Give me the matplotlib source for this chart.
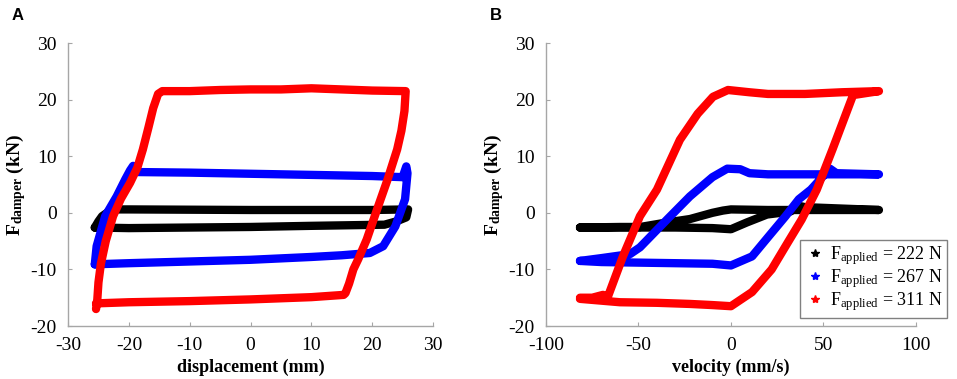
import matplotlib
matplotlib.use("Agg")
import matplotlib.pyplot as plt
from matplotlib.lines import Line2D

# ---- style ----
plt.rcParams.update({
    "font.family": "Liberation Serif",
    "font.size": 14,
    "axes.unicode_minus": False,
    "mathtext.fontset": "custom",
    "mathtext.rm": "Liberation Serif",
    "mathtext.it": "Liberation Serif:italic",
    "mathtext.bf": "Liberation Serif:bold",
})

# ---- data: panel A (force vs displacement) ----
disp_222 = [-25.6, -25.0, -24.4, -22.8, -20, 0, 20, 25.9, 25.6, 24.0, 22.0,
            10, 0, -10, -20, -25.6]
force_222_a = [-2.6, -1.5, -0.6, 0.6, 0.6, 0.5, 0.5, 0.6, -0.8, -1.5, -2.1,
               -2.3, -2.5, -2.6, -2.7, -2.6]

disp_267 = [-25.6, -25.3, -23.9, -22.0, -20.6, -19.8, -19.3, -18.5, -10, 0, 10,
            20, 25.0, 25.6, 25.8, 25.4, 23.8, 21.8, 19.6, 15, 10, 0, -10, -20, -25.6]
force_267_a = [-9.1, -5.9, -0.6, 2.9, 5.9, 7.5, 8.3, 7.2, 7.1, 6.9, 6.7,
               6.5, 6.3, 8.2, 7.0, 2.4, -2.4, -5.9, -7.1, -7.5, -7.8, -8.3, -8.6, -8.9, -9.1]

disp_311 = [-25.4, -25.2, -25.0, -24.6, -23.8, -22.6, -21.3, -19.8, -18.6, -17.7,
            -16.8, -16.0, -15.2, -14.5, -10, -5, 0, 5, 10, 15, 20, 25.5,
            25.3, 24.8, 24.1, 22.5, 20.8, 19.1, 17.7, 16.9, 16.2, 15.6, 15.3,
            10, 0, -10, -20, -25.4]
force_311_a = [-17.0, -15.5, -12.3, -9.0, -5.0, -0.6, 2.5, 5.3, 8.0, 11.2,
               15.0, 18.5, 21.0, 21.5, 21.5, 21.7, 21.8, 21.8, 22.0, 21.8, 21.6, 21.5,
               18.0, 14.5, 11.2, 5.8, 0.6, -4.7, -8.2, -10.0, -12.5, -14.2, -14.5,
               -14.9, -15.3, -15.6, -15.8, -16.0]

# ---- data: panel B (force vs velocity) ----
vel_222 = [-81.6, -60, -49, -34.6, -22.2, -10, -4.3, 0, 20, 40, 60, 80,
           40, 37.3, 31.9, 19.5, 8.6, 0, -10, -30, -50, -81.6]
force_222_b = [-2.6, -2.5, -2.5, -1.7, -1.1, 0.0, 0.4, 0.6, 0.5, 0.5, 0.5, 0.5,
               1.0, 1.2, 0.2, -0.3, -1.7, -2.9, -2.7, -2.6, -2.6, -2.6]

vel_267 = [-81.6, -70, -54.6, -49.2, -34.6, -22.2, -10, -2, 5, 10, 20, 40, 60, 80,
           57, 53.5, 43.2, 36.7, 29.5, 20.3, 11.4, 0, -10, -30, -50, -70, -81.6]
force_267_b = [-8.5, -8.0, -7.3, -6.1, -1.2, 2.9, 6.3, 7.8, 7.7, 7.0, 6.8, 6.8, 6.8, 6.8,
               7.0, 7.8, 4.1, 2.4, -0.6, -4.2, -7.7, -9.3, -9.0, -8.9, -8.8, -8.7, -8.5]

vel_311 = [-81.6, -75, -69.2, -66.5, -58.4, -49.2, -40, -27.6, -18, -9.7, -1.6,
           10, 20, 40, 60, 80, 66, 55, 46.4, 38.2, 30.8, 22, 11.4, 0, -10,
           -22.2, -40, -60, -81.6]
force_311_b = [-15.0, -15.0, -14.5, -14.8, -7.7, -0.6, 4.1, 12.9, 17.5, 20.5, 21.7,
               21.3, 21.0, 21.0, 21.3, 21.5, 20.8, 11.3, 4.1, -1.2, -5.2, -10.0, -14.0, -16.5, -16.3,
               -16.1, -15.9, -15.8, -15.2]

legend_labels = [r"F$_\mathrm{applied}$ = 222 N",
                 r"F$_\mathrm{applied}$ = 267 N",
                 r"F$_\mathrm{applied}$ = 311 N"]
colors = ["black", "#0000ff", "#ff0000"]

# ---- figure ----
fig = plt.figure(figsize=(9.57, 3.79), dpi=100)
ax_a = fig.add_axes([0.0711, 0.1398, 0.3814, 0.7467])
ax_b = fig.add_axes([0.5705, 0.1398, 0.3866, 0.7467])

line_kw = dict(linewidth=6.0, solid_joinstyle="round", solid_capstyle="round")

ax_a.plot(disp_222, force_222_a, color=colors[0], **line_kw)
ax_a.plot(disp_267, force_267_a, color=colors[1], **line_kw)
ax_a.plot(disp_311, force_311_a, color=colors[2], **line_kw)

ax_b.plot(vel_222, force_222_b, color=colors[0], **line_kw)
ax_b.plot(vel_267, force_267_b, color=colors[1], **line_kw)
ax_b.plot(vel_311, force_311_b, color=colors[2], **line_kw)

for ax in (ax_a, ax_b):
    ax.set_ylim(-20, 30)
    ax.set_yticks([-20, -10, 0, 10, 20, 30])
    ax.spines["top"].set_visible(False)
    ax.spines["right"].set_visible(False)
    for s in ("left", "bottom"):
        ax.spines[s].set_color("#a6a6a6")
        ax.spines[s].set_linewidth(1.0)
    ax.tick_params(direction="in", length=3, color="#a6a6a6", labelsize=14)
    ax.tick_params(axis="x", pad=8)
    ax.tick_params(axis="y", pad=8)
    ax.set_ylabel(r"$\mathbf{F_{damper}}$ (kN)", fontweight="bold", labelpad=2)

ax_a.set_xlim(-30, 30)
ax_a.set_xticks([-30, -20, -10, 0, 10, 20, 30])
ax_a.set_xlabel("displacement (mm)", fontweight="bold", fontsize=13, labelpad=3)

ax_b.set_xlim(-100, 100)
ax_b.set_xticks([-100, -50, 0, 50, 100])
ax_b.set_xlabel("velocity (mm/s)", fontweight="bold", fontsize=13, labelpad=3)

handles = [Line2D([], [], color=c, marker="*", linestyle="none", markersize=6)
           for c in colors]
leg = fig.legend(handles, legend_labels, loc="upper left",
                 bbox_to_anchor=(800 / 957, 1 - 240 / 379), fancybox=False,
                 framealpha=1, edgecolor="#808080", fontsize=13,
                 handletextpad=0.2, labelspacing=0.0, borderpad=0.25,
                 handlelength=1.2, borderaxespad=0)
leg.get_frame().set_linewidth(1.0)

fig.text(12 / 957, 1 - 16 / 379, "A", family="Liberation Sans", fontweight="bold",
         fontsize=12, va="center")
fig.text(490 / 957, 1 - 16 / 379, "B", family="Liberation Sans", fontweight="bold",
         fontsize=12, va="center")

fig.savefig("out.png", dpi=100)
